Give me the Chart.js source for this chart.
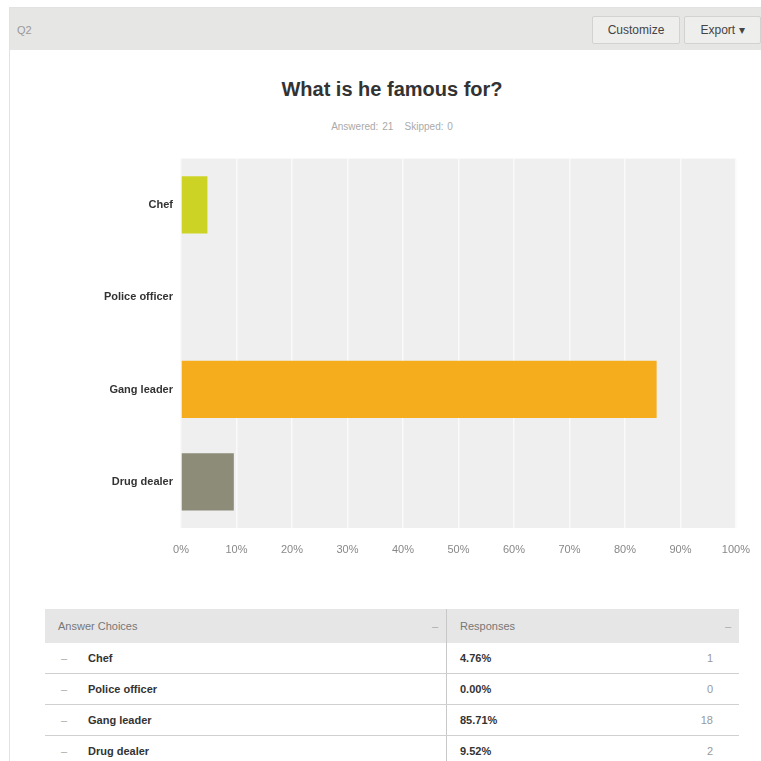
<!DOCTYPE html>
<html>
<head>
<meta charset="utf-8">
<script src="https://cdn.jsdelivr.net/npm/chart.js@4/dist/chart.umd.min.js"></script>
<style>
  body { margin: 0; width: 761px; height: 761px; overflow: hidden; background: #fff;
         font-family: "Liberation Sans", Arial, sans-serif; position: relative; }
  .panel { position: absolute; left: 9px; top: 7px; width: 760px; height: 770px;
           border-left: 1px solid #e2e2e2; border-top: 1px solid #e2e2e2; }
  .bar { position: absolute; left: 10px; top: 8px; width: 751px; height: 42px; background: #e6e6e4; }
  .q { position: absolute; left: 17px; top: 24px; font-size: 11px; color: #999; }
  .btn { position: absolute; top: 16px; height: 26px; line-height: 26px; font-size: 12px; color: #444;
         background: #eeeeec; border: 1px solid #d2d2d0; border-radius: 2px; text-align: center; }
  .title { position: absolute; left: 0; width: 784px; top: 78px; text-align: center;
           font-size: 20px; font-weight: bold; color: #333; }
  .sub { position: absolute; left: 0; width: 784px; top: 121px; text-align: center;
         font-size: 10px; color: #aaa; word-spacing: 1px; }
  #wrap { position: absolute; left: 0; top: 144px; width: 765px; height: 426px; }
  table { position: absolute; left: 45px; top: 609px; width: 694px; border-collapse: collapse;
          font-size: 11px; color: #333; }
  th { background: #e6e6e6; height: 34px; font-weight: normal; color: #777; text-align: left; padding: 0; }
  td { height: 30px; padding: 0; border-bottom: 1px solid #d0d0d0; }
  .c1 { width: 401px; border-right: 1px solid #c8c8c8; }
  .dash { color: #aaa; display: inline-block; width: 43px; padding-left: 16px; box-sizing: border-box; }
  .lab { font-weight: bold; }
  .pct { font-weight: bold; padding-left: 13px; }
  .cnt { text-align: right; color: #999; padding-right: 26px; }
</style>
</head>
<body>
<div class="panel"></div>
<div class="bar"></div>
<div class="q">Q2</div>
<div class="btn" style="left:592px;width:86px;">Customize</div>
<div class="btn" style="left:684px;width:75px;">Export ▾</div>
<div class="title">What is he famous for?</div>
<div class="sub">Answered: 21 &nbsp;&nbsp;Skipped: 0</div>
<div id="wrap"><canvas id="myChart"></canvas></div>
<table>
  <thead>
    <tr><th class="c1"><span style="padding-left:13px">Answer Choices</span><span style="float:right;padding-right:8px;color:#aaa">–</span></th>
        <th><span style="padding-left:13px">Responses</span><span style="float:right;padding-right:8px;color:#aaa">–</span></th></tr>
  </thead>
  <tbody id="rows"></tbody>
</table>
<script>
  // survey data
  var choices = ["Chef", "Police officer", "Gang leader", "Drug dealer"];
  var percents = [4.76, 0.00, 85.71, 9.52];
  var counts = [1, 0, 18, 2];
  var xTicks = [0, 10, 20, 30, 40, 50, 60, 70, 80, 90, 100];

  var barColors = ["#ccd325", "#4f8fb8", "#f6ad1d", "#8d8c79"];

  // table under the chart
  var rows = document.getElementById("rows");
  choices.forEach((c, i) => {
    let tr = document.createElement('tr');
    tr.innerHTML = `
      <td class="c1"><span class="dash">–</span><span class="lab">${c}</span></td>
      <td><span class="pct">${percents[i].toFixed(2)}%</span><span class="cnt" style="float:right">${counts[i]}</span></td>
    `;
    rows.appendChild(tr);
  });

  // grey plot background
  var plotBg = {
    id: 'plotBg',
    beforeDraw: function (chart) {
      var a = chart.chartArea, ctx = chart.ctx;
      ctx.save();
      ctx.fillStyle = "#efefef";
      ctx.fillRect(a.left, a.top, a.right - a.left, a.bottom - a.top);
      ctx.restore();
    }
  };

  new Chart(document.getElementById('myChart'), {
    type: 'bar',
    data: {
      labels: choices,
      datasets: [{
        data: percents,
        backgroundColor: barColors,
        barPercentage: 0.62,
        categoryPercentage: 1
      }]
    },
    options: {
      indexAxis: 'y',
      responsive: true,
      maintainAspectRatio: false,
      animation: false,
      layout: { padding: { top: 1, right: 22, left: 0, bottom: 0 } },
      plugins: { legend: { display: false }, tooltip: { enabled: false } },
      scales: {
        x: {
          min: 0, max: 100,
          afterBuildTicks: function (s) { s.ticks = xTicks.map(v => ({ value: v })); },
          afterFit: function (s) { s.height = 42; },
          grid: { color: "#fafafa", lineWidth: 1.5, drawTicks: false },
          border: { display: false },
          ticks: {
            padding: 15,
            color: "#888",
            font: { family: "Liberation Sans", size: 11 },
            callback: v => v + "%"
          }
        },
        y: {
          afterFit: function (s) { s.width = 181; },
          grid: { display: false, drawTicks: false },
          border: { display: false },
          ticks: {
            padding: 8,
            color: "#333",
            font: { family: "Liberation Sans", size: 11, weight: "bold" }
          }
        }
      }
    },
    plugins: [plotBg]
  });
</script>
</body>
</html>
